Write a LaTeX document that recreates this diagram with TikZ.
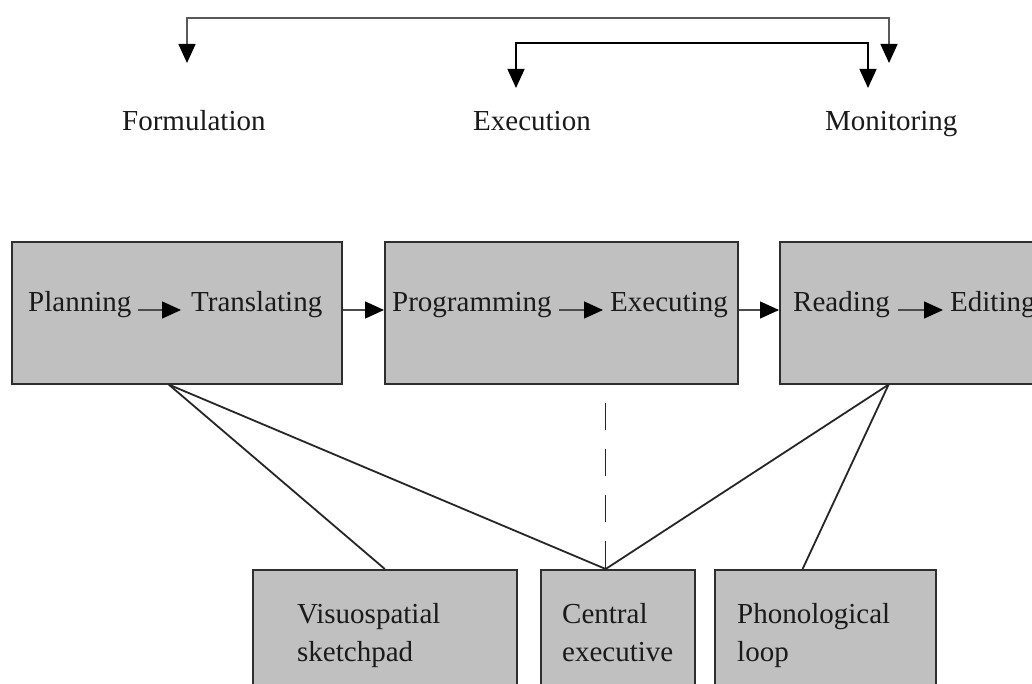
\documentclass[tikz,border=0pt]{standalone}
\usepackage{fontspec}
\setmainfont{Liberation Serif}
\usetikzlibrary{arrows.meta,calc}
\definecolor{boxgray}{HTML}{C0C0C0}
\definecolor{boxline}{HTML}{2E2E2E}
\definecolor{inktext}{HTML}{1A1A1A}
\begin{document}
\begin{tikzpicture}[x=1pt,y=-1pt,
  box/.style={draw=boxline, fill=boxgray, line width=1.6pt, inner sep=0pt, anchor=north west},
  lbl/.style={font=\fontsize{29}{37}\selectfont, inner sep=0pt, anchor=base west, text=inktext},
  tip/.style={Triangle[length=19pt,width=17pt,color=black]},
  arr/.style={line width=1.4pt, draw=black!70, -{Triangle[length=19pt,width=17pt,color=black]}},
  bracket/.style={line width=1.5pt, {Triangle[length=19pt,width=17pt,color=black]}-{Triangle[length=19pt,width=17pt,color=black]}},
  link/.style={line width=1.8pt, draw=black!85},
  dashlink/.style={line width=1.3pt, draw=black!85, dash pattern=on 27pt off 19pt}]
\useasboundingbox (0,0) rectangle (1032,684);
\clip (0,0) rectangle (1032,684);
\fill[white] (0,0) rectangle (1032,684);

% top labels
\node[lbl] (form) at (122,131) {Formulation};
\node[lbl] (exec) at (473,131) {Execution};
\node[lbl] (moni) at (825,131) {Monitoring};

% top brackets
\coordinate (fa) at (187,63);
\coordinate (ma) at (889,63);
\coordinate (ea) at (516,88);
\coordinate (mb) at (868,88);
\draw[bracket, draw=black!65] (fa) -- ++(0,-45) -| (ma);
\draw[bracket, draw=black] (ea) -- ++(0,-45) -| (mb);

% process boxes
\node[box, minimum width=330pt, minimum height=142pt] (b1) at (11,241) {};
\node[box, minimum width=353pt, minimum height=142pt] (b2) at (384,241) {};
\node[box, minimum width=353pt, minimum height=142pt] (b3) at (779,241) {};

\coordinate (row) at (0,310);

\node[lbl] (plan) at (28,312) {Planning};
\node[lbl] (trans) at (191,312) {Translating};
\node[lbl] (prog) at (392,312) {Programming};
\node[lbl] (execg) at (610,312) {Executing};
\node[lbl] (read) at (793,312) {Reading};
\node[lbl] (edit) at (950,312) {Editing};

\draw[arr] ($(plan.east |- row)+(6,0)$) -- ($(trans.west |- row)+(-10,0)$);
\draw[arr] ($(prog.east |- row)+(7,0)$) -- ($(execg.west |- row)+(-7,0)$);
\draw[arr] ($(read.east |- row)+(8,0)$) -- ($(edit.west |- row)+(-7,0)$);
\draw[arr] (b1.east |- row) -- (b2.west |- row);
\draw[arr] (b2.east |- row) -- (b3.west |- row);

% working memory boxes
\node[box, minimum width=264pt, minimum height=140pt] (b4) at (252,569) {};
\node[box, minimum width=154pt, minimum height=140pt] (b5) at (540,569) {};
\node[box, minimum width=221pt, minimum height=140pt] (b6) at (714,569) {};

\node[lbl] (vis1) at (297,623) {Visuospatial};
\node[lbl] (vis2) at (297,661) {sketchpad};
\node[lbl] (cen1) at (562,623) {Central};
\node[lbl] (cen2) at (562,661) {executive};
\node[lbl] (pho1) at (737,623) {Phonological};
\node[lbl] (pho2) at (737,661) {loop};

% links
\coordinate (p1) at ($(b1.south west)!0.476!(b1.south east)$);
\coordinate (p3) at ($(b3.south west)!0.309!(b3.south east)$);
\coordinate (q4) at ($(b4.north west)!0.50!(b4.north east)$);
\coordinate (q5) at ($(b5.north west)!0.422!(b5.north east)$);
\coordinate (q6) at ($(b6.north west)!0.398!(b6.north east)$);
\coordinate (d5) at ($(q5)+(0,-166)$);

\draw[link] (p1) -- (q4);
\draw[link] (p1) -- (q5);
\draw[link] (p3) -- (q5);
\draw[link] (p3) -- (q6);
\draw[dashlink] (d5) -- (q5);
\end{tikzpicture}
\end{document}
